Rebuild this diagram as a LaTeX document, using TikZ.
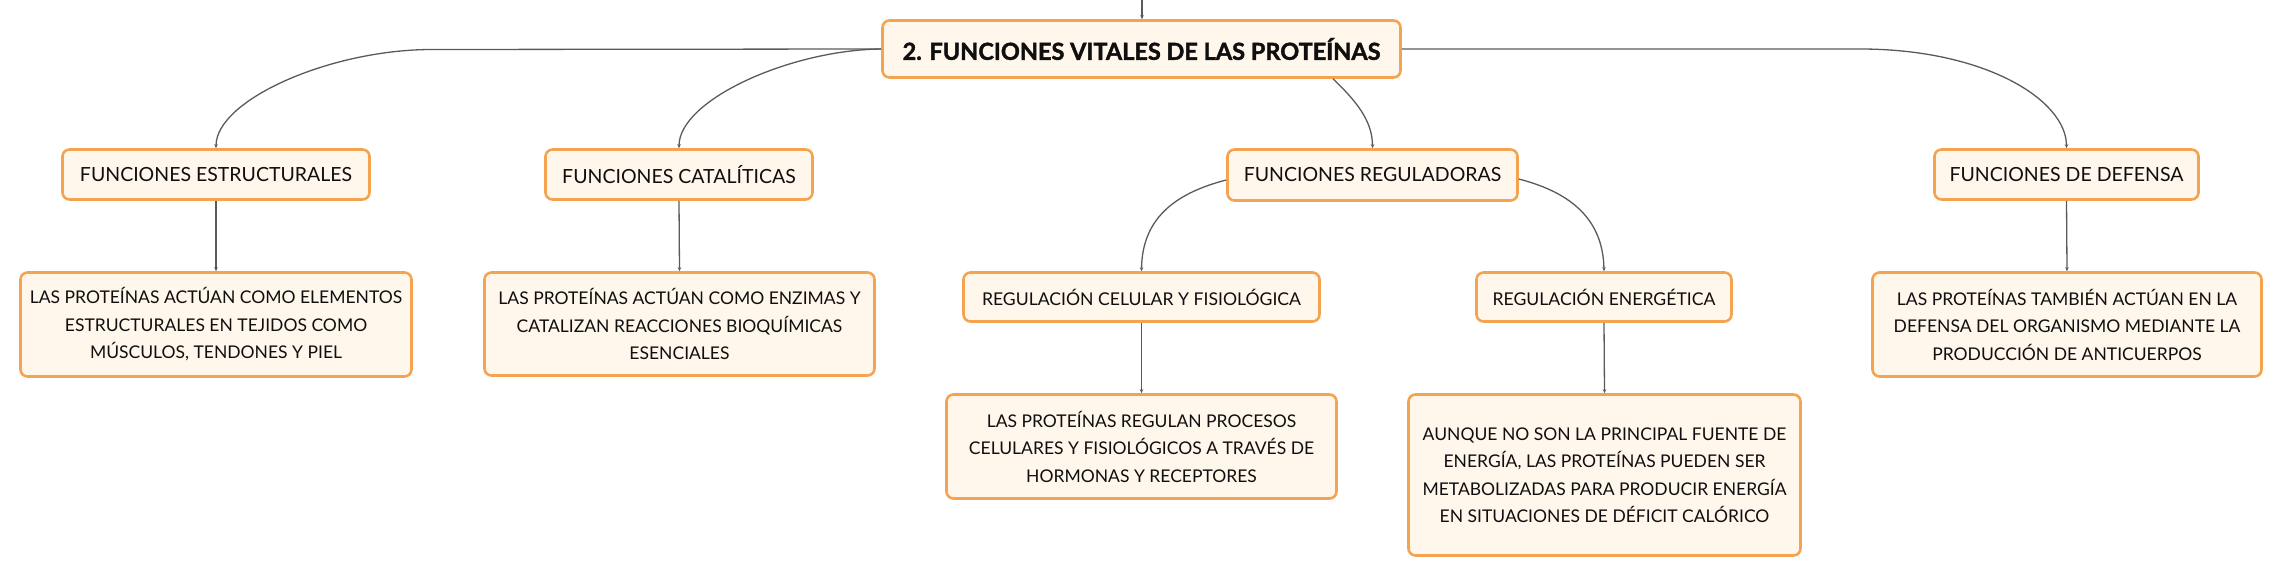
\documentclass[tikz,border=0pt]{standalone}
\usepackage{fontspec}
\setmainfont{Lato}
\newfontfamily\rootfont{Lato}[BoldFeatures={FakeBold=1.6}]
\usetikzlibrary{arrows.meta,calc}
\definecolor{boxorange}{RGB}{244,164,80}
\definecolor{boxfill}{RGB}{255,246,236}
\definecolor{linegray}{RGB}{90,90,90}
\definecolor{txt}{RGB}{15,15,15}
\tikzset{
  box/.style={draw=boxorange, fill=boxfill, line width=2.6pt, rounded corners=7pt,
    align=center, inner sep=0pt, text=txt},
  rootbox/.style={box, font=\rootfont\fontsize{23.5}{27}\selectfont\bfseries},
  topicbox/.style={box, font=\fontsize{19.5}{23}\selectfont},
  subbox/.style={box, font=\fontsize{17.6}{21}\selectfont},
  descbox/.style={box, font=\fontsize{17.5}{27.5}\selectfont},
  conn/.style={draw=linegray, line width=1.3pt, -{Stealth[length=4pt,width=3.5pt]}}
}
\begin{document}
\begin{tikzpicture}[x=1pt,y=-1pt]
\useasboundingbox (0,0) rectangle (2284,577);
% root
\node[rootbox, minimum width=518pt, minimum height=57pt] (root) at (1141.5,49) {2. FUNCIONES VITALES DE LAS PROTEÍNAS};
\coordinate (topend) at (1142,0);
% level 1
\node[topicbox, minimum width=307pt, minimum height=50pt] (est) at (216,174.5) {FUNCIONES ESTRUCTURALES};
\node[topicbox, minimum width=267pt, minimum height=50pt] (cat) at (679,174.5) {FUNCIONES CATALÍTICAS};
\node[topicbox, minimum width=290pt, minimum height=51pt] (reg) at (1372.5,175) {FUNCIONES REGULADORAS};
\node[topicbox, minimum width=264pt, minimum height=50pt] (def) at (2066.5,174.5) {FUNCIONES DE DEFENSA};
% level 2
\node[descbox, minimum width=391pt, minimum height=104pt] (estd) at (216,324.5) {LAS PROTEÍNAS ACTÚAN COMO ELEMENTOS\\ESTRUCTURALES EN TEJIDOS COMO\\MÚSCULOS, TENDONES Y PIEL};
\node[descbox, minimum width=390pt, minimum height=103pt] (catd) at (679.5,324) {LAS PROTEÍNAS ACTÚAN COMO ENZIMAS Y\\CATALIZAN REACCIONES BIOQUÍMICAS\\ESENCIALES};
\node[subbox, minimum width=356pt, minimum height=49pt] (celu) at (1141.5,297) {REGULACIÓN CELULAR Y FISIOLÓGICA};
\node[subbox, minimum width=255pt, minimum height=49pt] (ener) at (1604,297) {REGULACIÓN ENERGÉTICA};
\node[descbox, minimum width=389pt, minimum height=104pt] (defd) at (2067,324.5) {LAS PROTEÍNAS TAMBIÉN ACTÚAN EN LA\\DEFENSA DEL ORGANISMO MEDIANTE LA\\PRODUCCIÓN DE ANTICUERPOS};
% level 3
\node[descbox, minimum width=390pt, minimum height=104pt] (celud) at (1141.5,446.5) {LAS PROTEÍNAS REGULAN PROCESOS\\CELULARES Y FISIOLÓGICOS A TRAVÉS DE\\HORMONAS Y RECEPTORES};
\node[descbox, minimum width=392pt, minimum height=161pt] (enerd) at (1604.5,475) {AUNQUE NO SON LA PRINCIPAL FUENTE DE\\ENERGÍA, LAS PROTEÍNAS PUEDEN SER\\METABOLIZADAS PARA PRODUCIR ENERGÍA\\EN SITUACIONES DE DÉFICIT CALÓRICO};
% connectors
\draw[conn] (topend) -- (root.north -| topend);
\coordinate (lbend) at (432,49.5);
\coordinate (rbend) at (1860,49);
\draw[conn] (root.west) -- (lbend) .. controls (330,49.5) and (216,100) .. (est.north);
\draw[conn] (root.west) .. controls (790,50) and (679,100) .. (cat.north);
\draw[conn] (root.east) -- (rbend) .. controls (1985,49) and (2066.5,100) .. (def.north);
\draw[conn] ([xshift=191.5pt]root.south) .. controls (1355,100) and (1372.5,120) .. (reg.north);
\draw[conn] ([yshift=-5pt]reg.west) .. controls (1180,192) and (1142,215) .. (celu.north);
\draw[conn] ([yshift=-4pt]reg.east) .. controls (1565,191) and (1603,215) .. (ener.north);
\draw[conn] (est.south) -- (estd.north);
\draw[conn] (cat.south) -- (catd.north);
\draw[conn] (def.south) -- (defd.north);
\draw[conn] (celu.south) -- (celud.north);
\draw[conn] (ener.south) -- (enerd.north);
\end{tikzpicture}
\end{document}
